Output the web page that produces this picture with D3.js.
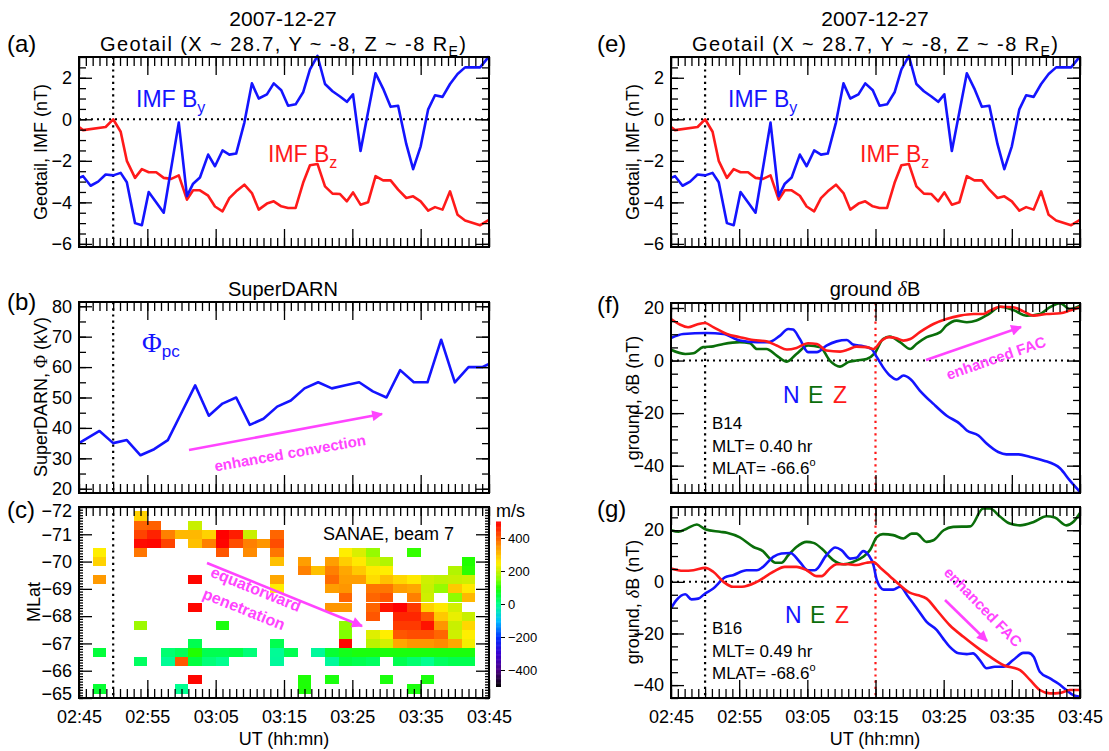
<!DOCTYPE html>
<html><head><meta charset="utf-8">
<script src="https://cdn.jsdelivr.net/npm/d3@7"></script>
<style>
body{margin:0;background:#fff;}
svg{display:block;font-family:"Liberation Sans",Arial,Helvetica,sans-serif;}
</style></head><body>
<svg id="chart" width="1109" height="751"></svg>
<script>
// ---------------- DATA (minutes after 02:45 UT, 2007-12-27) ----------------
const xTickLabels = ["02:45","02:55","03:05","03:15","03:25","03:35","03:45"];

const imfByTime = [0,0.6,1.7,2.8,3.9,5,6.1,7,8.2,9.2,10.2,12.4,14.6,15.8,16.7,17.7,18.9,19.9,21,22,23,24.2,25.3,26.3,27.5,28.5,29.6,30.6,31.7,32.8,33.8,34.9,36,37.1,38.2,39.2,40.1,41.2,43.4,44.5,45.6,46.7,47.9,48.9,50,51.1,52.1,53.2,54.3,55.4,56.5,58.7,60];
const imfByValue = [-2.82,-2.74,-3.2,-3.0,-2.66,-2.7,-2.58,-3.03,-5.0,-5.1,-3.5,-4.5,-0.16,-3.7,-3.1,-2.8,-1.7,-2.26,-1.5,-1.7,-1.65,-0.16,1.73,1.0,1.2,1.73,1.4,0.65,0.72,1.3,2.4,3.05,1.7,1.35,1.1,0.84,1.2,-1.53,2.22,1.48,0.6,0.65,-1.2,-2.4,-1.3,0.48,1.16,1.08,1.7,2.18,2.5,2.5,3.03];
const imfBzTime = [0,0.6,3.9,5,6.1,7,8.2,9.2,10.2,11.3,12.4,13.5,14.6,15.8,16.7,17.7,18.9,19.9,21,22,23,24.2,25.3,26.3,27.5,28.5,29.6,30.6,31.7,32.8,33.8,34.9,36,37.1,38.2,39.2,40.1,41.2,42.3,43.4,44.5,45.6,46.7,47.9,48.9,50,51.1,52.1,53.2,54.3,55.4,56.5,58.7,60];
const imfBzValue = [-0.37,-0.52,-0.37,0,-0.6,-2.0,-2.82,-2.4,-2.55,-2.55,-2.82,-2.87,-2.7,-3.87,-3.42,-3.42,-3.68,-4.2,-4.43,-3.8,-3.47,-3.15,-3.55,-4.35,-4.06,-3.95,-4.19,-4.27,-4.27,-3.06,-2.21,-2.15,-3.23,-3.58,-3.6,-3.95,-3.52,-4.11,-4.0,-2.74,-2.94,-2.94,-3.39,-3.79,-3.71,-3.95,-4.4,-4.23,-4.35,-3.47,-4.6,-4.87,-5.1,-4.84];

const phiTime = [0,3,5,7,9,11,13,15,17,19,21,23,25,27,29,31,33,35,37,39,41,43,45,47,49,51,53,55,57,59,60];
const phiValue = [35,39,35,36,31,33,36,45,54,44,48,50,41,43,47,49,53,55,53,54,55,52,50,59,55,55,69,55,60,60,61];

// SANAE beam 7 cells: [centre minute, MLat, velocity m/s]
const sanaeCells = [
 [3,-70.33,250],[3,-70.0,280],[3,-69.33,345],[3,-66.67,55],[3,-65.33,60],
 [9,-71.67,280],[9,-71.33,395],[9,-71.0,430],[9,-70.67,490],[9,-70.33,380],[9,-67.67,170],[9,-66.33,30],
 [11,-71.33,400],[11,-71.0,465],[11,-70.67,495],
 [13,-71.0,370],[13,-70.67,430],[13,-66.67,20],[13,-66.33,-5],
 [15,-71.0,310],[15,-66.67,35],[15,-66.33,410],[15,-65.33,0],
 [17,-71.33,200],[17,-71.0,310],[17,-70.67,300],[17,-69.33,495],[17,-68.33,495],[17,-67.0,40],[17,-66.67,100],[17,-66.33,50],[17,-65.67,495],
 [19,-71.0,280],[19,-70.67,370],[19,-66.67,40],[19,-66.33,15],
 [21,-71.0,500],[21,-70.67,495],[21,-70.33,410],[21,-67.67,90],[21,-66.67,40],[21,-66.33,0],
 [23,-71.0,470],[23,-70.67,420],[23,-66.67,45],
 [25,-71.0,200],[25,-70.67,370],[25,-70.33,360],[25,-66.67,15],
 [27,-70.67,350],
 [29,-71.0,395],[29,-70.67,420],[29,-70.33,380],[29,-70.0,300],[29,-69.33,330],[29,-69.0,250],[29,-67.0,40],[29,-66.67,-5],[29,-66.33,-10],
 [31,-66.67,40],
 [33,-70.0,340],[33,-69.67,370],[33,-65.67,95],[33,-65.33,95],
 [35,-69.67,300],[35,-66.67,-10],
 [37,-70.0,340],[37,-69.67,370],[37,-69.33,390],[37,-69.0,340],[37,-68.33,350],[37,-66.67,60],[37,-66.33,-10],[37,-65.67,90],
 [39,-70.33,250],[39,-70.0,285],[39,-69.67,330],[39,-69.33,340],[39,-69.0,350],[39,-68.67,395],[39,-68.33,350],[39,-67.67,160],[39,-67.33,150],[39,-67.0,495],[39,-66.67,80],[39,-66.33,50],
 [41,-70.33,215],[41,-70.0,255],[41,-69.67,290],[41,-69.33,340],[41,-66.67,90],[41,-66.33,40],
 [43,-70.33,165],[43,-70.0,200],[43,-69.67,255],[43,-69.33,270],[43,-69.0,380],[43,-68.67,395],[43,-68.33,395],[43,-68.0,410],[43,-67.33,220],[43,-67.0,190],[43,-66.67,90],[43,-66.33,30],
 [45,-70.0,185],[45,-69.67,250],[45,-69.33,300],[45,-69.0,380],[45,-68.67,410],[45,-68.33,480],[45,-67.33,250],[45,-67.0,210],[45,-66.67,90],[45,-65.67,90],
 [47,-69.33,275],[47,-69.0,340],[47,-68.33,500],[47,-68.0,460],[47,-67.67,440],[47,-67.33,410],[47,-67.0,330],[47,-66.67,90],[47,-66.33,40],
 [49,-70.33,110],[49,-69.33,255],[49,-69.0,330],[49,-68.67,370],[49,-68.33,440],[49,-68.0,460],[49,-67.67,440],[49,-67.33,420],[49,-67.0,350],[49,-66.67,90],[49,-66.33,20],[49,-65.33,90],
 [51,-69.33,205],[51,-69.0,200],[51,-68.67,205],[51,-68.33,280],[51,-68.0,410],[51,-67.67,480],[51,-67.33,420],[51,-67.0,350],[51,-66.67,90],[51,-66.33,0],[51,-65.67,90],
 [53,-69.33,195],[53,-69.0,165],[53,-68.33,255],[53,-68.0,290],[53,-67.67,350],[53,-67.33,395],[53,-67.0,360],[53,-66.67,90],[53,-66.33,30],
 [55,-69.67,185],[55,-69.33,200],[55,-69.0,290],[55,-68.67,160],[55,-68.33,210],[55,-68.0,230],[55,-67.67,200],[55,-67.33,205],[55,-67.0,330],[55,-66.67,90],[55,-66.33,40],
 [57,-70.0,100],[57,-69.67,105],[57,-69.33,205],[57,-69.0,255],[57,-68.67,310],[57,-68.0,200],[57,-67.67,275],[57,-67.33,250],[57,-67.0,240],[57,-66.67,90],[57,-66.33,40]
];
const velocityStops = [-500,-400,-300,-200,-100,0,50,100,150,200,250,300,350,400,450,500];
const velocityColors = ["#000000","#4b0082","#3a00d0","#0030ff","#00c0ff","#00ff90","#00ff40","#20ff00","#80ff00","#c8f000","#ffee00","#ffc000","#ff9600","#ff6000","#ff3000","#ff0000"];
const colorbarTicks = [-400,-200,0,200,400];

// ground magnetometer B14
const b14NTime = [0,1.8,5.2,7.7,10.1,12.6,14.3,16,17.2,17.9,18.9,20.1,21.4,22.8,24.3,25.8,26.7,28.2,29.4,30.2,31.1,32.1,33.1,34.1,35.1,36.5,38.5,40.4,42.4,43.4,45.1,46.3,48,49.2,51,52.7,54.6,57.1,58.5,60];
const b14NValue = [8.6,10.1,10.5,10.1,7.6,7.0,7.0,9.5,12.0,11.8,8.2,3.2,3.2,5.7,7.3,7.8,6.1,5.4,4.4,1.3,-2.5,-5.7,-7.2,-5.7,-7.0,-11.4,-16.5,-20.9,-24.1,-26.6,-28.5,-31.6,-34.8,-35.7,-35.7,-36.7,-38.0,-41.1,-45.6,-50.0];
const b14ETime = [0,2.1,3.3,4.7,6.2,7.7,10.1,11.6,12.6,14.0,15.5,17.0,18.4,20.1,21.9,23.3,24.8,26.0,27.2,28.7,29.9,31.1,32.1,33.6,35.1,36.0,37.5,39.5,40.4,41.9,43.4,44.8,46.6,48.3,50.2,52.2,54.1,55.6,57.1,58.5,60];
const b14EValue = [4.1,2.5,2.8,5.1,5.4,6.3,7.0,6.6,4.4,4.4,1.9,-0.4,2.5,5.7,5.1,0,-2.3,-0.6,0,0.6,2.8,8.2,9.1,7.0,4.4,6.3,8.9,10.8,13.3,15.2,14.6,15.2,17.7,20.5,19.2,17.1,17.7,20.3,21.8,19.6,20.9];
const b14ZTime = [0,1.3,2.5,3.8,5.0,6.2,8.2,10.1,12.1,14.0,15.5,17.0,18.4,20.1,21.4,22.8,24.8,26.0,27.2,28.7,29.7,30.9,31.9,33.1,34.1,35.1,36.5,38.5,40.4,42.4,44.4,45.8,46.8,48.3,50.2,51.7,53.2,55.1,57.1,58.5,60];
const b14ZValue = [15.8,13.7,12.7,13.7,14.3,12.7,10.1,8.9,7.8,7.3,5.7,4.2,4.8,6.6,6.3,3.8,3.4,4.2,5.3,5.1,4.4,7.6,8.9,8.5,7.6,8.2,10.8,13.9,15.8,17.1,17.7,17.7,19.0,20.5,20.3,18.7,17.1,17.7,18.0,19.0,20.3];

// ground magnetometer B16
const b16NTime = [0,0.8,2.1,3.0,4.0,5.0,6.2,7.9,9.1,11.1,12.6,13.5,15.0,16.2,17.5,18.9,20.1,21.1,22.8,24.1,25.0,26.3,27.2,28.2,29.0,29.7,30.2,31.2,32.6,33.6,34.8,36.3,37.5,39.0,39.9,40.9,42.2,43.4,44.3,45.3,46.3,47.5,48.8,50.2,51.7,52.4,53.2,54.1,55.6,56.8,58.0,59.0,60];
const b16NValue = [-10.3,-7.1,-4.8,-6.8,-6.5,-4.5,-2.6,1.7,2.6,4.5,4.5,5.8,9.7,11.0,11.2,7.7,4.5,4.5,10.3,13.3,12.3,9.0,9.3,11.9,10.3,6.5,0.6,-3.0,-3.0,-1.9,-5.8,-11.2,-15.5,-18.7,-21.9,-25.2,-27.7,-28.0,-27.7,-30.3,-33.5,-32.9,-32.9,-30.3,-27.5,-27.5,-29.0,-34.8,-37.4,-39.4,-41.9,-43.9,-44.5];
const b16ETime = [0,1.1,2.3,3.8,5.0,7.2,8.2,10.1,12.1,13.5,14.5,15.3,16.2,17.2,18.4,19.9,20.9,22.1,23.8,25.3,26.7,28.2,29.2,30.2,31.1,32.6,34.1,35.3,36.0,37.5,38.5,40.0,41.4,43.9,45.8,46.8,48.3,49.7,51.2,53.2,55.1,56.3,58.0,59.0,60];
const b16EValue = [20,19.4,20.6,22.2,20.4,19.4,19.0,17.2,13.5,11.9,9.0,7.4,7.4,10.3,13.5,15.5,15.1,12.9,8.4,6.8,7.7,9.7,12.3,17.4,18.5,18.1,16.8,18.7,18.7,15.5,16.1,20.0,21.3,21.5,28.4,28.4,25.2,22.6,21.9,23.2,25.4,24.9,21.9,23.2,26.7];
const b16ZTime = [0,1.8,3.3,5.0,6.2,7.7,9.1,10.4,12.6,15.0,16.7,18.4,19.9,21.4,22.1,23.3,24.3,26.0,27.2,28.7,29.7,30.7,32.1,33.6,35.1,36.3,37.5,39.0,40.9,42.9,44.8,46.8,48.8,51.2,52.7,54.1,55.6,57.1,58.5,60];
const b16ZValue = [5.2,4.3,4.5,5.4,3.9,0,-1.9,-1.9,0,3.9,5.8,5.8,4.5,2.2,2.2,5.2,6.8,6.8,6.5,7.4,7.7,5.5,2.2,-1.3,-4.3,-5.2,-6.5,-11.0,-16.8,-21.3,-25.2,-29.0,-32.3,-34.2,-38.1,-41.9,-43.2,-43.0,-41.9,-41.9];

// ---------------- DRAWING ----------------
const BLUE = "#1414ff", RED = "#ff1a1a", GREEN = "#0a6e0a", MAG = "#ff44ff";
const T0 = Date.UTC(2007, 11, 27, 2, 45);
const toDate = m => new Date(T0 + m * 60000);
const svg = d3.select("#chart");
const zip = (t, v) => t.map((d, i) => [d, v[i]]);
const SANS = "Liberation Sans, Arial, sans-serif";

function makePanel(xr, yr, dom) {
  const x = d3.scaleUtc().domain([toDate(0), toDate(60)]).range(xr);
  const y = d3.scaleLinear().domain(dom).range([yr[1], yr[0]]);
  return {x, y};
}

function axesFrame(p, yMajor, yMinor, yMinorLen, xLabels, labelNudge) {
  const g = svg.append("g");
  const [x0, x1] = p.x.range();
  const yb = Math.max(...p.y.range()), yt = Math.min(...p.y.range());
  const minorT = d3.range(0, 61).map(toDate);
  const majorT = d3.range(0, 61, 10).map(toDate);
  const style = s => s.call(a => a.select(".domain").remove())
    .call(a => a.selectAll("line").attr("stroke", "#000").attr("stroke-width", 1.3));
  g.append("g").attr("transform", `translate(0,${yb})`).call(d3.axisBottom(p.x).tickValues(minorT).tickSize(-9).tickFormat("")).call(style);
  g.append("g").attr("transform", `translate(0,${yb})`).call(d3.axisBottom(p.x).tickValues(majorT).tickSize(-18).tickFormat("")).call(style);
  g.append("g").attr("transform", `translate(0,${yt})`).call(d3.axisTop(p.x).tickValues(minorT).tickSize(-9).tickFormat("")).call(style);
  g.append("g").attr("transform", `translate(0,${yt})`).call(d3.axisTop(p.x).tickValues(majorT).tickSize(-18).tickFormat("")).call(style);
  const [d0, d1] = d3.extent(p.y.domain());
  const eps = 1e-6;
  const minorV = d3.range(Math.ceil(d0 / yMinor - eps), Math.floor(d1 / yMinor + eps) + 1).map(i => +(i * yMinor).toFixed(6));
  const majorV = minorV.filter(v => Math.abs(v / yMajor - Math.round(v / yMajor)) < 1e-4).map(v => Math.round(v / yMajor) * yMajor);
  g.append("g").attr("transform", `translate(${x0},0)`).call(d3.axisLeft(p.y).tickValues(minorV).tickSize(-yMinorLen).tickFormat("")).call(style);
  g.append("g").attr("transform", `translate(${x1},0)`).call(d3.axisRight(p.y).tickValues(minorV).tickSize(-yMinorLen).tickFormat("")).call(style);
  g.append("g").attr("transform", `translate(${x0},0)`).call(d3.axisLeft(p.y).tickValues(majorV).tickSize(-13).tickFormat("")).call(style);
  g.append("g").attr("transform", `translate(${x1},0)`).call(d3.axisRight(p.y).tickValues(majorV).tickSize(-13).tickFormat("")).call(style);
  g.append("g").attr("transform", `translate(${x0},0)`)
    .call(d3.axisLeft(p.y).tickValues(majorV).tickSize(0).tickPadding(7).tickFormat(d3.format("d")))
    .call(a => a.select(".domain").remove())
    .call(a => a.selectAll("text").attr("font-size", 18).attr("font-family", SANS).attr("fill", "#000")
      .attr("transform", d => {
        if (!labelNudge) return null;
        const py = p.y(d);
        if (Math.abs(py - yt) < 2) return `translate(0,${labelNudge})`;
        if (Math.abs(py - yb) < 2) return `translate(0,${-labelNudge})`;
        return null;
      }));
  if (xLabels) {
    g.append("g").attr("transform", `translate(0,${yb})`)
      .call(d3.axisBottom(p.x).tickValues(majorT).tickSize(0).tickPadding(12).tickFormat((d, i) => xTickLabels[i]))
      .call(a => a.select(".domain").remove())
      .call(a => a.selectAll("text").attr("font-size", 18).attr("font-family", SANS).attr("fill", "#000"));
  }
  g.append("rect").attr("x", x0).attr("y", yt).attr("width", x1 - x0).attr("height", yb - yt)
    .attr("fill", "none").attr("stroke", "#000").attr("stroke-width", 2);
}

function dottedV(p, m, color) {
  const yb = Math.max(...p.y.range()), yt = Math.min(...p.y.range());
  svg.append("line").attr("x1", p.x(toDate(m))).attr("x2", p.x(toDate(m))).attr("y1", yt).attr("y2", yb)
    .attr("stroke", color).attr("stroke-width", 2.2).attr("stroke-dasharray", "2.2,4");
}
function dottedH(p, v) {
  const [x0, x1] = p.x.range();
  svg.append("line").attr("x1", x0).attr("x2", x1).attr("y1", p.y(v)).attr("y2", p.y(v))
    .attr("stroke", "#000").attr("stroke-width", 2).attr("stroke-dasharray", "2,4");
}
function series(p, t, v, color, curve) {
  const line = d3.line().x(d => p.x(toDate(d[0]))).y(d => p.y(d[1])).curve(curve || d3.curveLinear);
  svg.append("path").datum(zip(t, v)).attr("d", line).attr("fill", "none")
    .attr("stroke", color).attr("stroke-width", 2.6).attr("stroke-linejoin", "round");
}
function txt(x, y, s, opt = {}) {
  const t = svg.append("text").attr("x", x).attr("y", y).text(s)
    .attr("font-size", opt.size || 18).attr("fill", opt.fill || "#000")
    .attr("text-anchor", opt.anchor || "start");
  if (opt.weight) t.attr("font-weight", opt.weight);
  if (opt.family) t.attr("font-family", opt.family);
  return t;
}
function vlabel(x, y, build, size) {
  const t = svg.append("text").attr("transform", `translate(${x},${y}) rotate(-90)`)
    .attr("text-anchor", "middle").attr("font-size", size || 18);
  build(t);
}
function rottext(cx, cy, ang, s, size) {
  svg.append("text").attr("transform", `translate(${cx},${cy}) rotate(${ang})`)
    .attr("text-anchor", "middle").attr("dy", "0.35em").attr("font-size", size || 15)
    .attr("font-weight", "bold").attr("fill", MAG).text(s);
}
svg.append("defs").append("marker").attr("id", "ah").attr("viewBox", "0 0 10 10")
  .attr("refX", 9).attr("refY", 5).attr("markerWidth", 5).attr("markerHeight", 4.2)
  .attr("markerUnits", "strokeWidth").attr("orient", "auto")
  .append("path").attr("d", "M0,0 L10,5 L0,10 z").attr("fill", MAG);
function arrow(x1, y1, x2, y2) {
  svg.append("line").attr("x1", x1).attr("y1", y1).attr("x2", x2).attr("y2", y2)
    .attr("stroke", MAG).attr("stroke-width", 2.6).attr("marker-end", "url(#ah)");
}

// ----- panels
const pa = makePanel([79, 489], [57, 247], [-6.15, 3.0]);
const pe = makePanel([671, 1080], [57, 247], [-6.15, 3.0]);
const pb = makePanel([79, 489], [302, 493], [18.6, 81.4]);
const pc = makePanel([79, 489], [507, 698], [-65, -72]);
const pf = makePanel([671, 1080], [303, 493], [-50.4, 21.9]);
const pg = makePanel([671, 1080], [507, 698], [-45, 29]);

// heatmap
const vColor = d3.scaleLinear().domain(velocityStops).range(velocityColors).clamp(true);
svg.append("clipPath").attr("id", "clipc").append("rect").attr("x", 79).attr("y", 507).attr("width", 410).attr("height", 191);
svg.append("g").attr("clip-path", "url(#clipc)").selectAll("rect").data(sanaeCells).join("rect")
  .attr("x", d => pc.x(toDate(d[0] - 1))).attr("width", d => pc.x(toDate(d[0] + 1)) - pc.x(toDate(d[0] - 1)))
  .attr("y", d => Math.min(pc.y(d[1] + 1 / 6), pc.y(d[1] - 1 / 6)))
  .attr("height", d => Math.abs(pc.y(d[1] - 1 / 6) - pc.y(d[1] + 1 / 6)))
  .attr("fill", d => vColor(d[2])).attr("shape-rendering", "crispEdges");

// colorbar
const cy = d3.scaleLinear().domain([-500, 500]).range([686.5, 521.5]);
svg.append("g").selectAll("rect").data(d3.range(-500, 500, 5)).join("rect")
  .attr("x", 496).attr("width", 5).attr("y", d => cy(d + 5)).attr("height", d => cy(d) - cy(d + 5) + 0.5)
  .attr("fill", d => vColor(d + 2.5));
svg.append("g").attr("transform", "translate(501,0)")
  .call(d3.axisRight(cy).tickValues(colorbarTicks).tickSize(4).tickPadding(3))
  .call(a => a.select(".domain").remove())
  .call(a => a.selectAll("text").attr("font-size", 13).attr("font-family", SANS));
txt(496, 517, "m/s", {size: 18});

// lines
[pa, pe].forEach(p => {
  dottedH(p, 0);
  dottedV(p, 5, "#000");
  series(p, imfBzTime, imfBzValue, RED);
  series(p, imfByTime, imfByValue, BLUE);
});
dottedV(pb, 5, "#000");
series(pb, phiTime, phiValue, BLUE);
dottedV(pc, 5, "#000");
[pf, pg].forEach(p => { dottedH(p, 0); dottedV(p, 5, "#000"); dottedV(p, 30, RED); });
series(pf, b14ETime, b14EValue, GREEN, d3.curveMonotoneX);
series(pf, b14NTime, b14NValue, BLUE, d3.curveMonotoneX);
series(pf, b14ZTime, b14ZValue, RED, d3.curveMonotoneX);
series(pg, b16ETime, b16EValue, GREEN, d3.curveMonotoneX);
series(pg, b16NTime, b16NValue, BLUE, d3.curveMonotoneX);
series(pg, b16ZTime, b16ZValue, RED, d3.curveMonotoneX);

axesFrame(pa, 2, 0.5, 7, false, 0);
axesFrame(pe, 2, 0.5, 7, false, 0);
axesFrame(pb, 10, 5, 7, false, 0);
axesFrame(pc, 1, 0.1, 4, true, 4);
axesFrame(pf, 20, 5, 7, false, 0);
axesFrame(pg, 20, 5, 7, true, 0);

// ----- titles & labels
[283, 875].forEach(cx => {
  txt(cx, 26, "2007-12-27", {size: 21, anchor: "middle"});
  const g = txt(cx, 51, "Geotail (X ~ 28.7, Y ~ -8, Z ~ -8 R", {size: 20, anchor: "middle"})
    .attr("textLength", 366).attr("lengthAdjust", "spacing");
  g.append("tspan").attr("dy", 5).attr("font-size", 14).text("E");
  g.append("tspan").attr("dy", -5).text(")");
});
txt(7, 52, "(a)", {size: 24});
txt(7, 310, "(b)", {size: 24});
txt(7, 518, "(c)", {size: 24});
txt(597, 52, "(e)", {size: 24});
txt(597, 313, "(f)", {size: 24});
txt(597, 517, "(g)", {size: 24});
txt(283, 296, "SuperDARN", {size: 20, anchor: "middle"});
const gd = txt(875, 296, "ground ", {size: 20, anchor: "middle"});
gd.append("tspan").attr("font-style", "italic").attr("font-family", "Liberation Serif, serif").text("δ");
gd.append("tspan").text("B");

vlabel(47, 152, t => t.text("Geotail, IMF (nT)"));
vlabel(639, 152, t => t.text("Geotail, IMF (nT)"));
vlabel(47, 397, t => { t.append("tspan").text("SuperDARN, "); t.append("tspan").attr("font-family", "Liberation Serif, serif").text("Φ"); t.append("tspan").text(" (kV)"); });
vlabel(40, 602, t => t.text("MLat"));
vlabel(639, 398, t => { t.append("tspan").text("ground, "); t.append("tspan").attr("font-family", "Liberation Serif, serif").attr("font-style", "italic").text("δ"); t.append("tspan").text("B (nT)"); });
vlabel(639, 602, t => { t.append("tspan").text("ground, "); t.append("tspan").attr("font-family", "Liberation Serif, serif").attr("font-style", "italic").text("δ"); t.append("tspan").text("B (nT)"); });
txt(284, 745, "UT (hh:mn)", {size: 18, anchor: "middle"});
txt(875, 745, "UT (hh:mn)", {size: 18, anchor: "middle"});

// in-plot annotations
[0, 592].forEach(dx => {
  const by = txt(136 + dx, 107, "IMF B", {size: 23, fill: BLUE});
  by.append("tspan").attr("dy", 6).attr("font-size", 16).text("y");
  const bz = txt(268 + dx, 162, "IMF B", {size: 23, fill: RED});
  bz.append("tspan").attr("dy", 6).attr("font-size", 16).text("z");
});
const ph = txt(142, 352, "Φ", {size: 27, fill: BLUE, family: "Liberation Serif, serif"});
ph.append("tspan").attr("dy", 5).attr("font-size", 17).attr("font-family", SANS).text("pc");

arrow(189, 450, 382, 414);
rottext(290, 453, -10, "enhanced convection", 15);

txt(323, 540, "SANAE, beam 7", {size: 18});
arrow(207, 563, 362, 626);
rottext(256, 589, 22, "equatorward", 16);
rottext(244, 609, 22, "penetration", 16);

[[403, 0], [623, 2]].forEach(([by, dx]) => {
  txt(783 + dx, by, "N", {size: 23, fill: BLUE});
  txt(808 + dx, by, "E", {size: 23, fill: GREEN});
  txt(833 + dx, by, "Z", {size: 23, fill: RED});
});
function stationText(y, name, mlt, mlat) {
  txt(712, y, name, {size: 17});
  txt(712, y + 22.5, "MLT= " + mlt + " hr", {size: 17});
  const t = txt(712, y + 45, "MLAT= " + mlat, {size: 17});
  t.append("tspan").attr("dy", -8).attr("font-size", 11).text("o");
}
stationText(429, "B14", "0.40", "-66.6");
stationText(634, "B16", "0.49", "-68.6");

arrow(926, 360, 1021, 327);
rottext(996, 358, -19, "enhanced FAC", 15);
arrow(945, 600, 987, 641);
rottext(983, 607, 46, "enhanced FAC", 15);
</script></body></html>
